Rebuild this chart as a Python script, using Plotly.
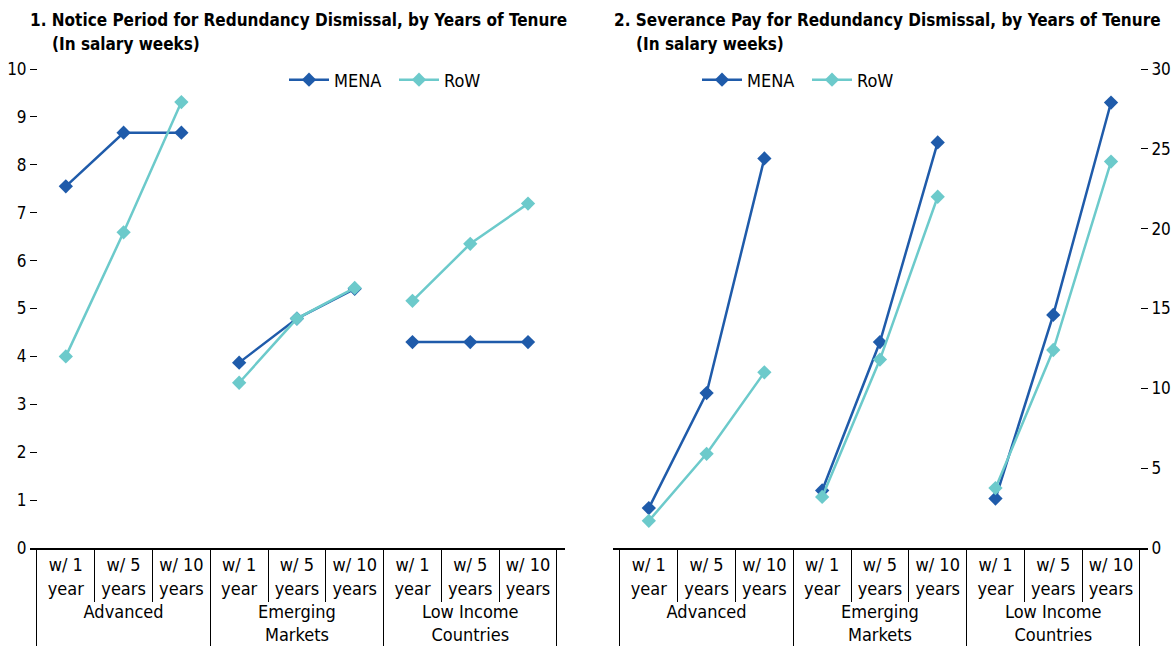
import plotly.graph_objects as go

# Data (salary weeks)
groups = ["Advanced", "Emerging<br>Markets", "Low Income<br>Countries"]
tenure = ["w/ 1<br>year", "w/ 5<br>years", "w/ 10<br>years"]

notice_mena = [[7.55, 8.67, 8.67], [3.87, 4.79, 5.41], [4.30, 4.30, 4.30]]
notice_row = [[4.00, 6.59, 9.31], [3.45, 4.79, 5.43], [5.16, 6.35, 7.19]]

sev_mena = [[2.5, 9.7, 24.4], [3.6, 12.9, 25.4], [3.1, 14.6, 27.9]]
sev_row = [[1.7, 5.9, 11.0], [3.2, 11.8, 22.0], [3.75, 12.4, 24.2]]

MENA_COLOR = "#1F5BAA"
ROW_COLOR = "#6CCACB"
FONT = "DejaVu Sans Condensed, Liberation Sans Narrow, Liberation Sans, sans-serif"

fig = go.Figure()


def add_series(name, color, values, xa, ya, legend):
    for i, g in enumerate(groups):
        fig.add_trace(go.Scatter(
            x=[[g] * 3, tenure],
            y=values[i],
            name=name,
            mode="lines+markers",
            line=dict(color=color, width=2.5),
            marker=dict(symbol="diamond", size=11, color=color),
            legendgroup=name + legend,
            showlegend=(i == 0),
            legend=legend,
            xaxis=xa, yaxis=ya,
        ))


add_series("MENA", MENA_COLOR, notice_mena, "x", "y", "legend")
add_series("RoW", ROW_COLOR, notice_row, "x", "y", "legend")
add_series("MENA", MENA_COLOR, sev_mena, "x2", "y2", "legend2")
add_series("RoW", ROW_COLOR, sev_row, "x2", "y2", "legend2")

W, H = 1173, 656
y_dom = [(H - 548) / H, (H - 69) / H]
x1_dom = [30 / W, 565 / W]
x2_dom = [613 / W, 1148 / W]

xcommon = dict(
    type="multicategory", range=[-0.62, 8.64], automargin=False,
    showline=True, linecolor="black", linewidth=1.5,
    ticks="outside", tickson="boundaries", ticklen=52, tickcolor="black", tickwidth=1,
    showdividers=True, dividercolor="black", dividerwidth=1,
    showgrid=False, zeroline=False,
    tickfont=dict(family=FONT, size=18, color="black"),
)
ycommon = dict(showgrid=False, zeroline=False, showline=False, automargin=False,
               ticks="outside", ticklen=7, tickcolor="black", tickwidth=1, anchor="free")
ylabels = dict(tickfont=dict(family=FONT, size=17, color="black"))

legend_common = dict(orientation="h", y=1 - 80 / H, xanchor="left", yanchor="middle",
                     font=dict(family=FONT, size=18), bgcolor="rgba(0,0,0,0)",
                     itemwidth=40, entrywidth=55, entrywidthmode="pixels")

fig.update_layout(
    width=W, height=H,
    paper_bgcolor="white", plot_bgcolor="white",
    margin=dict(l=0, r=0, t=0, b=0, autoexpand=False),
    font=dict(family=FONT, size=18, color="black"),
    xaxis=dict(domain=x1_dom, anchor="y", **xcommon),
    xaxis2=dict(domain=x2_dom, anchor="y2", **xcommon),
    yaxis=dict(domain=y_dom, position=37 / W, range=[0, 10], dtick=1, side="left",
               **ycommon, **ylabels),
    yaxis3=dict(domain=y_dom, position=557 / W, overlaying="y", range=[0, 10], dtick=1,
                side="right", showticklabels=False, **ycommon),
    yaxis2=dict(domain=y_dom, position=1140 / W, range=[0, 30], dtick=5, side="right",
                **ycommon, **ylabels),
    yaxis4=dict(domain=y_dom, position=620 / W, overlaying="y2", range=[0, 30], dtick=5,
                side="left", showticklabels=False, **ycommon),
    legend=dict(x=284 / W, **legend_common),
    legend2=dict(x=697 / W, **legend_common),
    showlegend=True,
)

titles = [
    (28, "1. Notice Period for Redundancy Dismissal, by Years of Tenure"),
    (612, "2. Severance Pay for Redundancy Dismissal, by Years of Tenure"),
]
for x0, t in titles:
    fig.add_annotation(text="<b>" + t + "</b>", x=x0 / W, y=1 - 20 / H, xref="paper", yref="paper",
                       xanchor="left", yanchor="middle", showarrow=False,
                       font=dict(family=FONT, size=17, color="black"))
    fig.add_annotation(text="<b>(In salary weeks)</b>", x=(x0 + 22) / W, y=1 - 44 / H,
                       xref="paper", yref="paper", xanchor="left", yanchor="middle",
                       showarrow=False, font=dict(family=FONT, size=17, color="black"))

fig.write_html("out.html", config={"displayModeBar": False},
               post_script="document.body.style.margin='0';")
